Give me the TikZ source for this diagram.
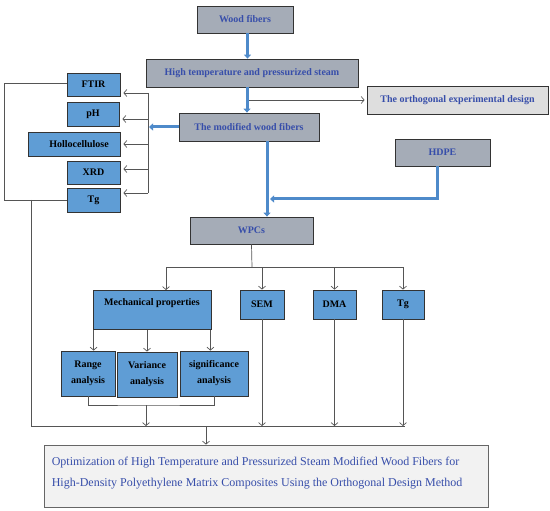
\documentclass[tikz,border=0pt]{standalone}
\usepackage{fontspec}
\setmainfont{Liberation Serif}
\usetikzlibrary{arrows.meta}
\definecolor{boxgray}{RGB}{165,172,183}
\definecolor{orthogray}{RGB}{222,222,222}
\definecolor{finalgray}{RGB}{242,242,242}
\definecolor{boxblue}{RGB}{95,157,213}
\definecolor{txtblue}{RGB}{55,78,170}
\definecolor{fatblue}{RGB}{78,138,202}
\definecolor{linegray}{RGB}{85,85,85}
\begin{document}
\begin{tikzpicture}[x=1pt,y=-1pt,
  graybox/.style={draw=black!80,line width=0.8pt,fill=boxgray,text=txtblue,font=\bfseries\fontsize{10}{12}\selectfont,inner sep=0pt},
  bluebox/.style={draw=black!80,line width=0.8pt,fill=boxblue,font=\bfseries\fontsize{10}{16}\selectfont,inner sep=0pt,align=center},
  linkline/.style={draw=linegray,line width=0.7pt},
  linkarrow/.style={linkline,-{Straight Barb[length=3pt,width=7pt]}},
  fatarrow/.style={draw=fatblue,line width=3pt,-{Triangle[length=4pt,width=7pt]}}]
\useasboundingbox (0,0) rectangle (550,511);
\node[graybox,minimum width=96,minimum height=27] (wood) at (245,19.5) {Wood fibers};
\node[graybox,minimum width=212,minimum height=28] (steam) at (252,73) {High temperature and pressurized steam};
\node[graybox,fill=orthogray,minimum width=181,minimum height=28] (ortho) at (457.5,100) {The orthogonal experimental design};
\node[graybox,minimum width=140,minimum height=28] (modwf) at (249,127) {The modified wood fibers};
\node[graybox,minimum width=95,minimum height=27] (hdpe) at (442.5,152.5) {HDPE};
\node[graybox,minimum width=123,minimum height=27] (wpc) at (251.5,230.5) {WPCs};
\node[bluebox,minimum width=53,minimum height=23] (ftir) at (93.5,84.5) {FTIR};
\node[bluebox,minimum width=52,minimum height=24] (ph) at (93,114) {pH};
\node[bluebox,minimum width=92,minimum height=24] (holo) at (74,144) {\hspace*{10pt}Hollocellulose};
\node[bluebox,minimum width=53,minimum height=23] (xrd) at (93.5,172.5) {XRD};
\node[bluebox,minimum width=53,minimum height=24] (tgfib) at (93.5,200) {Tg};
\node[bluebox,minimum width=118,text height=15,text depth=24,anchor=north] (mech) at (152,290) {Mechanical properties};
\node[bluebox,minimum width=44,minimum height=29] (sem) at (262,304.5) {SEM};
\node[bluebox,minimum width=43,minimum height=29] (dma) at (334.5,304.5) {DMA};
\node[bluebox,minimum width=42,minimum height=29] (tgcomp) at (403,304.5) {Tg};
\node[bluebox,minimum width=54,minimum height=45] (rng) at (88,373.5) {Range\\analysis};
\node[bluebox,minimum width=60,minimum height=45] (var) at (147,374.5) {Variance\\analysis};
\node[bluebox,minimum width=68,minimum height=45] (sig) at (214,373.5) {significance\\analysis};
\node[draw=black!60,line width=0.8pt,fill=finalgray,minimum width=444,minimum height=62] (final) at (266,476) {};
\node[anchor=west,inner sep=0pt,align=left,text=txtblue,font=\fontsize{12}{21}\selectfont] (finaltext) at ([xshift=8pt,yshift=3pt]final.west) {Optimization of High Temperature and Pressurized Steam Modified Wood Fibers for\\High-Density Polyethylene Matrix Composites Using the Orthogonal Design Method};
\coordinate (fork) at (148,93);
\coordinate (forkend) at (148,193);
\coordinate (leftbar) at (4,200);
\coordinate (drop) at (31.5,200);
\coordinate (collectL) at (31.5,426);
\coordinate (collectR) at (405,426);
\coordinate (mix) at (270,199);
\coordinate (split) at (252,267);
\coordinate (join) at (146,405);
\draw[fatarrow] ([xshift=2.5pt]wood.south) -- ([xshift=2.5pt]wood.south |- steam.north);
\draw[fatarrow] ([xshift=-5pt]steam.south) -- ([xshift=-5pt]steam.south |- modwf.north);
\draw[linkarrow] ([xshift=-3pt]steam.south |- ortho.west) -- ([xshift=-2pt]ortho.west);
\draw[fatarrow] (modwf.west) -- ([xshift=1pt]modwf.west -| fork);
\draw[fatarrow] ([xshift=-5.5pt]hdpe.south) |- (mix);
\draw[fatarrow] ([xshift=18pt]modwf.south) -- ([xshift=18pt]modwf.south |- wpc.north);
\draw[linkline] (fork) -- (forkend);
\draw[linkarrow] (fork) -- ([xshift=3pt]ftir.east |- fork);
\draw[linkarrow] ([yshift=-5pt]ph.east -| fork) -- ([xshift=3pt,yshift=-5pt]ph.east);
\draw[linkarrow] (holo.east -| fork) -- ([xshift=3pt]holo.east);
\draw[linkarrow] ([yshift=3.5pt]xrd.east -| fork) -- ([xshift=3pt,yshift=3.5pt]xrd.east);
\draw[linkarrow] (forkend) -- ([xshift=3pt]tgfib.east |- forkend);
\draw[linkline] ([yshift=1.5pt]ftir.west) -| (leftbar) -- (tgfib.west);
\draw[linkline] (drop) -- (collectL) -- (collectR);
\draw[linkline] (wpc.south) -- (split);
\draw[linkarrow] (split) -| ([xshift=14pt]mech.north);
\draw[linkarrow] (split) -| (sem.north);
\draw[linkarrow] (split) -| (dma.north);
\draw[linkarrow] (split) -| (tgcomp.north);
\draw[linkarrow] ([xshift=1pt]mech.south west) -- ([xshift=1pt]mech.south west |- rng.north);
\draw[linkarrow] (var.north |- mech.south) -- (var.north);
\draw[linkarrow] ([xshift=-1pt]mech.south east) -- ([xshift=-1pt]mech.south east |- sig.north);
\draw[linkline] (rng.south) |- (join) -| (sig.south);
\draw[linkarrow] (join) -- (join |- collectL);
\draw[linkarrow] (sem.south) -- (sem.south |- collectL);
\draw[linkarrow] (dma.south) -- (dma.south |- collectL);
\draw[linkarrow] (tgcomp.south) -- (tgcomp.south |- collectL);
\draw[linkarrow] ([xshift=-60pt]final.north |- collectL) -- ([xshift=-60pt]final.north);
\end{tikzpicture}
\end{document}
